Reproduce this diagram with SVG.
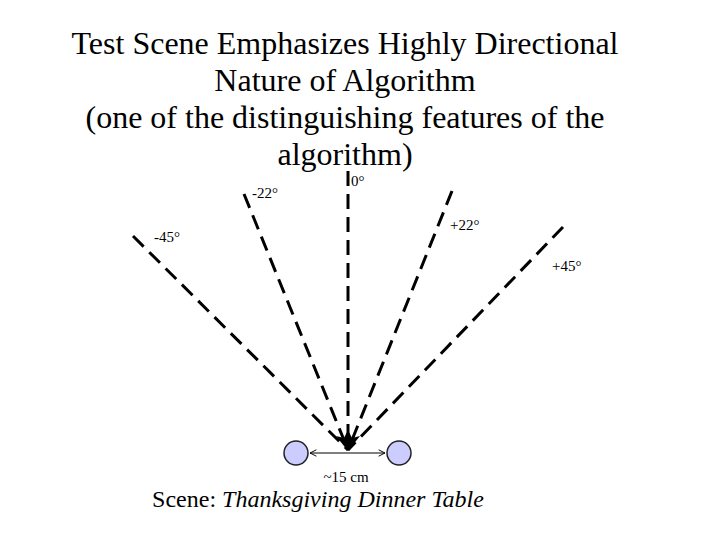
<svg xmlns="http://www.w3.org/2000/svg" width="720" height="540" viewBox="0 0 720 540">
<style>
.t{font-family:"Liberation Serif","Times New Roman","DejaVu Serif",serif;fill:#000}
.title{font-size:32px;text-anchor:middle}
.lbl{font-size:15px}
.ray{stroke:#000;stroke-width:3;stroke-dasharray:15 8;fill:none}
.dot{fill:#ccccff;stroke:#222;stroke-width:1.5}
</style>
<defs>
<marker id="oa" viewBox="0 0 10 10" refX="9" refY="5" markerWidth="8" markerHeight="8" orient="auto-start-reverse" markerUnits="userSpaceOnUse">
<path d="M1,1 L9,5 L1,9" fill="none" stroke="#000" stroke-width="1.2"/>
</marker>
</defs>
<rect width="720" height="540" fill="#fff"/>
<g id="title">
<text class="t title" x="345" y="54">Test Scene Emphasizes Highly Directional</text>
<text class="t title" x="345" y="91">Nature of Algorithm</text>
<text class="t title" x="345" y="128">(one of the distinguishing features of the</text>
<text class="t title" x="345" y="165">algorithm)</text>
</g>
<g id="connectors">
<line class="ray" x1="348" y1="171" x2="348" y2="450"/>
<line class="ray" x1="244" y1="194" x2="348" y2="450"/>
<line class="ray" x1="452" y1="191" x2="348" y2="450"/>
<line class="ray" x1="133" y1="236" x2="348" y2="450"/>
<line class="ray" x1="563" y1="227" x2="348" y2="450"/>
<path d="M336,436 L348,451 L360,436 L352,438 L348,430 L344,438 Z" fill="#000"/>
<line x1="310" y1="453" x2="385" y2="453" stroke="#000" stroke-width="1.2" marker-start="url(#oa)" marker-end="url(#oa)"/>
</g>
<g id="labels">
<text class="t lbl" x="351" y="186">0°</text>
<text class="t lbl" x="252" y="198">-22°</text>
<text class="t lbl" x="450" y="230">+22°</text>
<text class="t lbl" x="154" y="242">-45°</text>
<text class="t lbl" x="552" y="271">+45°</text>
</g>
<g id="node-left"><circle class="dot" cx="296" cy="453" r="12"/></g>
<g id="node-right"><circle class="dot" cx="399" cy="453" r="12"/></g>
<g id="distance"><text class="t lbl" x="346" y="482" text-anchor="middle">~15 cm</text></g>
<g id="caption">
<text class="t" x="318" y="507" font-size="24" text-anchor="middle">Scene: <tspan font-style="italic">Thanksgiving Dinner Table</tspan></text>
</g>
</svg>
